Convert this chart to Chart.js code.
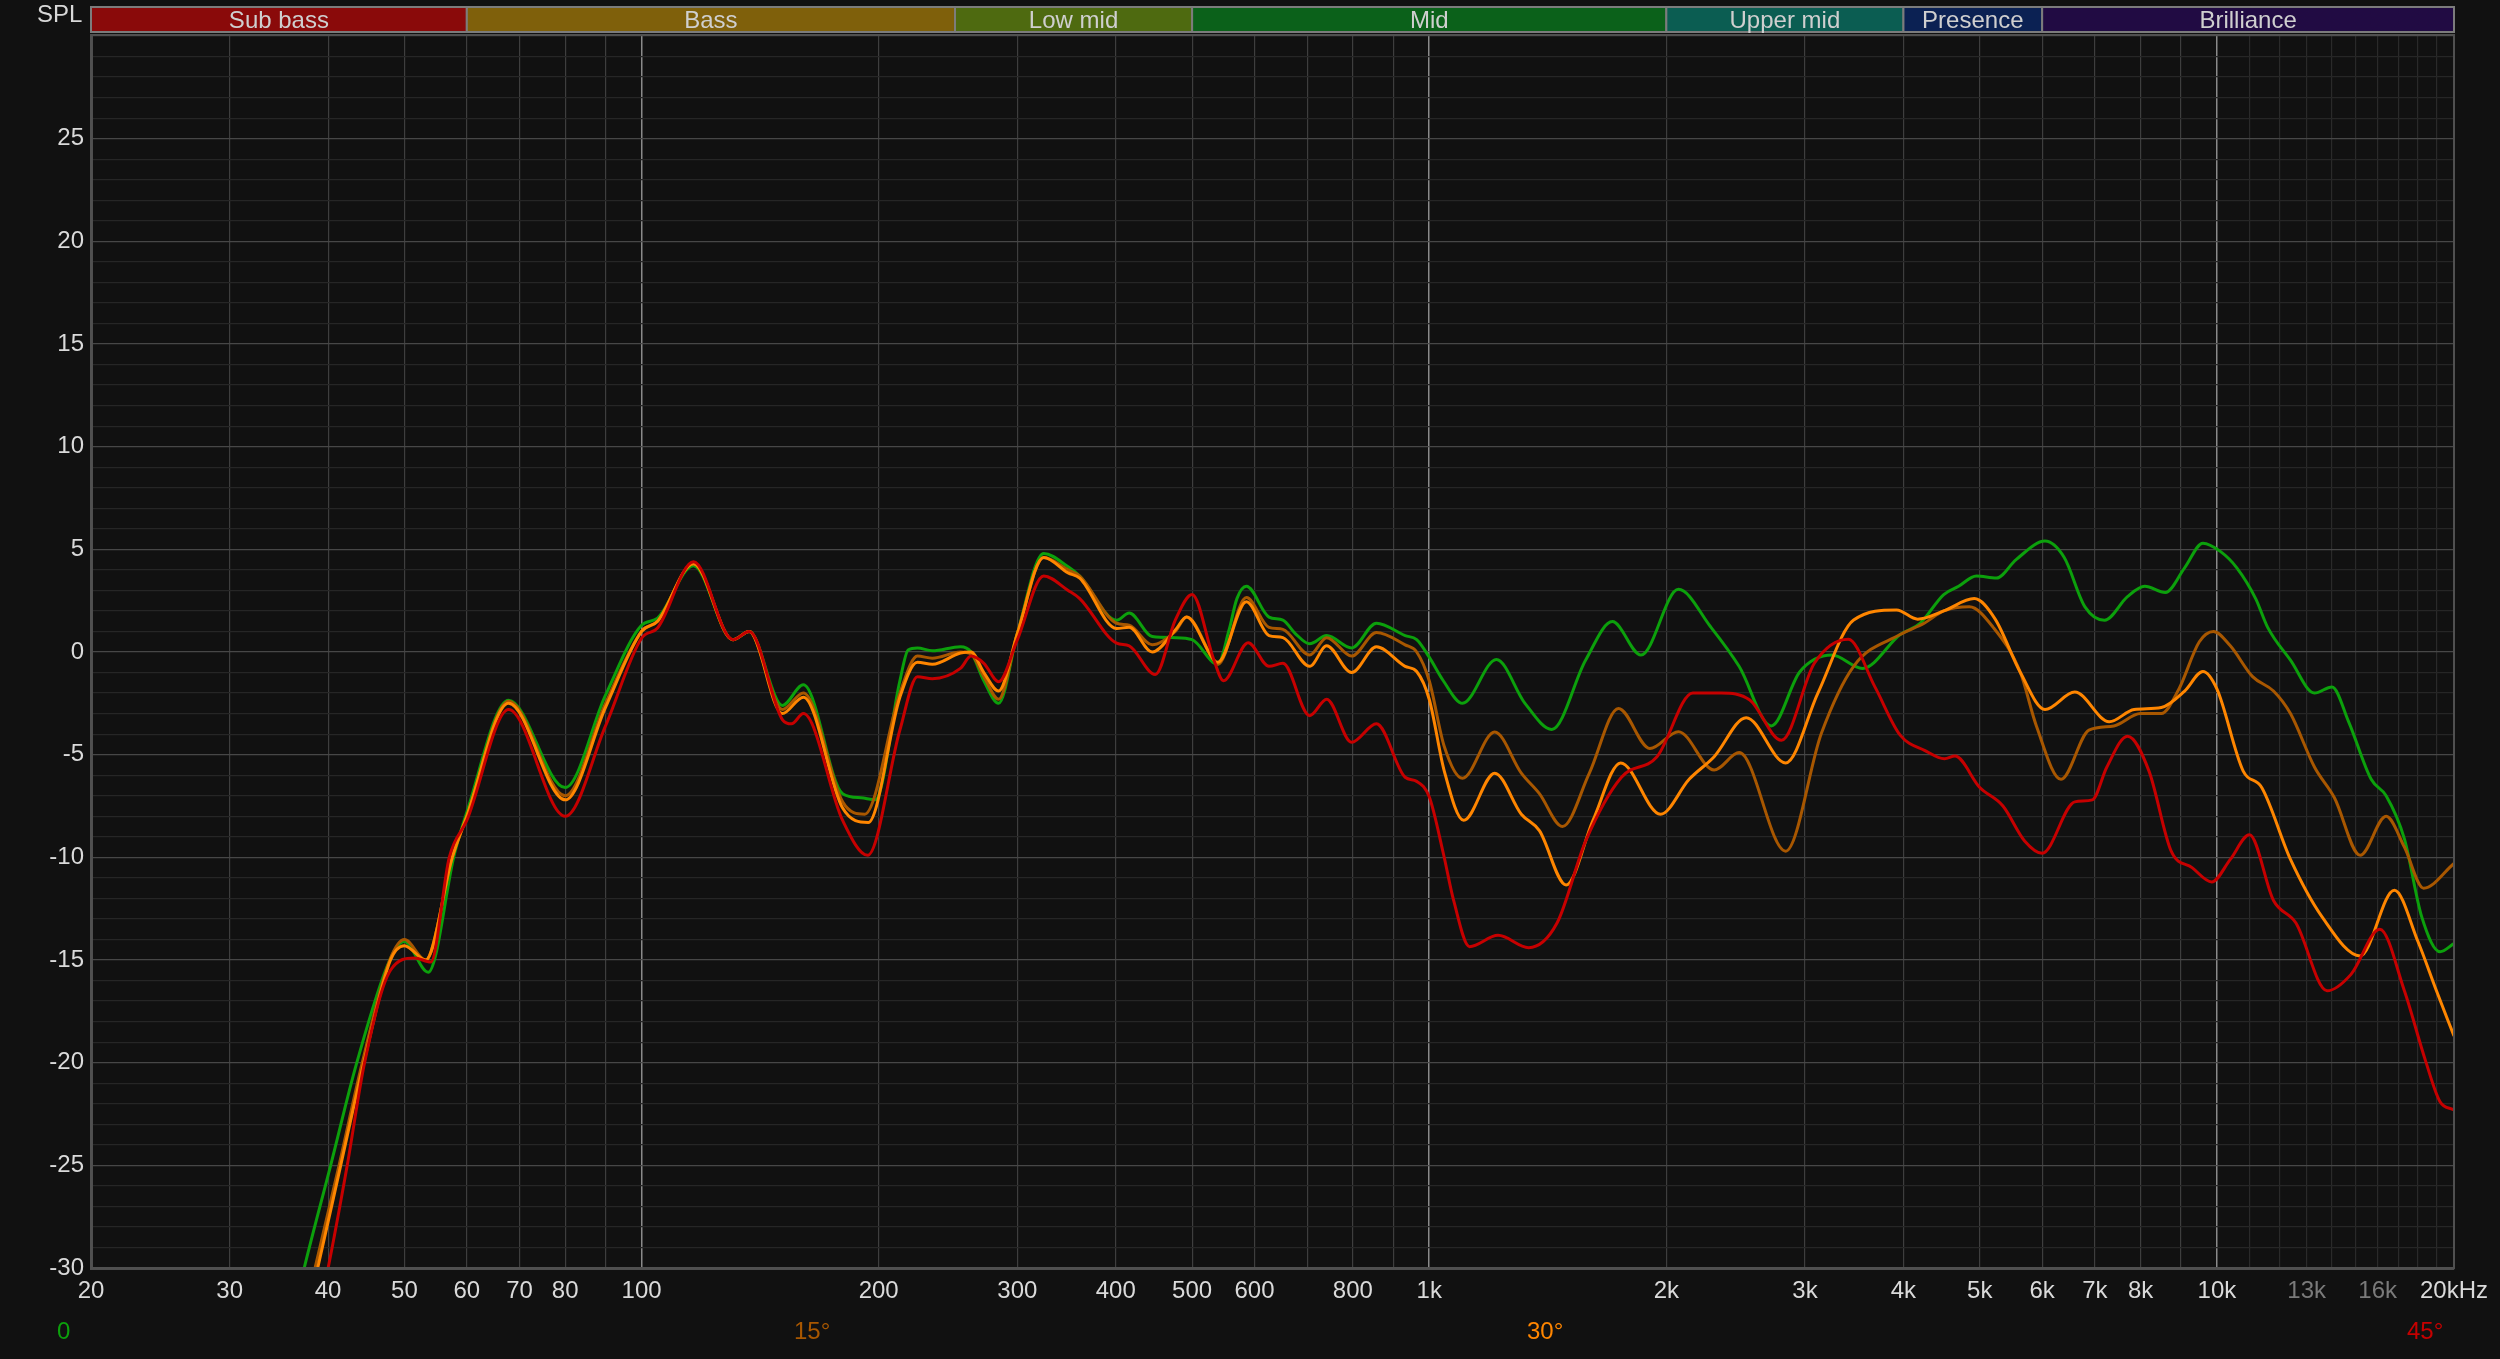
<!DOCTYPE html>
<html><head><meta charset="utf-8">
<script src="https://cdn.jsdelivr.net/npm/chart.js@4.4.1/dist/chart.umd.min.js"></script>
<style>
html,body{margin:0;padding:0;background:#111111;overflow:hidden;}
#wrap{position:relative;width:2500px;height:1359px;background:#111111;}
#wrap canvas{display:block;}
.lbl{position:absolute;font-family:'Liberation Sans',Arial,sans-serif;font-size:24px;line-height:24px;white-space:nowrap;}
</style></head><body>
<div id="wrap"><canvas id="c"></canvas>
<div class="lbl" style="left:37px;top:2px;color:#d8d8d8">SPL</div>
</div>
<script>
// ---------- data ----------
const seriesNames = ['0', '15°', '30°', '45°'];
const seriesColors = ['#0ca00c', '#a85700', '#ff8600', '#c60000'];

const freq0 = [20,25,32,37.3,40.3,43.5,47.9,50,53.6,57.9,60,67.8,80,90,100,104.8,116.4,130.6,137,150.9,160.5,180,190,198,212.8,218,224,234,254,262,272,284,300,324,348,360,401,416,445,476,500,539,557,570,586,626,652,676,705,741,797,857,932,964,1000,1042,1102,1217,1323,1431,1580,1708,1857,2072,2276,2475,2718,2955,3246,3548,3962,4200,4500,4700,4950,5250,5560,6050,6400,6800,7200,7700,8100,8600,9100,9600,10100,10600,11200,11600,12400,13300,14000,14700,15700,16400,17300,18200,19200,20000];
const spl0 = [-65,-55,-41,-30,-25,-20,-15,-14.1,-15.6,-9.8,-7.8,-2.35,-6.6,-2.1,1.3,1.65,4.2,0.6,1.0,-2.6,-1.6,-6.9,-7.1,-7.2,-1.4,0.1,0.2,0.06,0.26,0.0,-1.4,-2.5,0.9,4.8,4.15,3.7,1.55,1.9,0.75,0.7,0.6,-0.6,1.07,2.6,3.2,1.7,1.55,0.9,0.4,0.8,0.2,1.4,0.8,0.6,-0.25,-1.4,-2.5,-0.36,-2.5,-3.77,-0.39,1.48,-0.15,3.05,1.23,-0.71,-3.6,-0.96,-0.15,-0.8,0.85,1.4,2.8,3.2,3.7,3.6,4.5,5.4,4.6,2.2,1.55,2.7,3.2,2.9,4.1,5.3,4.9,4.1,2.6,1.2,-0.4,-2.0,-1.7,-3.4,-6.2,-7.0,-9.1,-12.9,-14.6,-14.2];

const freq15 = [20,25,33,38.5,41.3,44.2,47.9,50,53.2,57.5,60,67.8,80,90,100,104.8,116.4,130.6,137,150.9,160.5,180,192,212.8,224,234,254,262,272,284,300,324,348,360,401,416,445,476,492,533,539,586,626,652,705,741,797,857,932,964,1000,1045,1102,1211,1309,1380,1476,1597,1739,1906,2072,2300,2475,2835,3147,3458,3962,4250,4500,4850,5200,5630,5900,6340,6880,7400,8000,8500,8950,9500,9900,10400,11100,11800,12400,13300,14100,15200,16400,17300,18300,20000];
const spl15 = [-65,-55,-41,-30,-25,-20,-15,-14.0,-15.0,-10,-8.0,-2.4,-7.0,-2.5,1.0,1.5,4.3,0.6,1.0,-2.8,-2.0,-7.3,-7.9,-2.0,-0.2,-0.3,0.0,-0.1,-1.2,-2.3,0.9,4.6,4.0,3.7,1.4,1.3,0.35,1.0,1.7,-0.4,-0.6,2.65,1.2,1.1,-0.15,0.7,-0.2,0.95,0.35,0.0,-1.4,-4.6,-6.15,-3.9,-5.9,-6.9,-8.5,-5.9,-2.75,-4.7,-3.88,-5.75,-4.9,-9.7,-3.96,-0.7,0.85,1.4,2.0,2.2,1.2,-1.0,-3.6,-6.2,-3.8,-3.6,-3.0,-3.0,-1.8,0.5,1.0,0.3,-1.2,-1.9,-3.0,-5.6,-7.1,-9.9,-8.0,-9.5,-11.5,-10.3];

const freq30 = [20,25,33,38.8,41.5,44.4,48,50,53.2,57.5,60,67.8,80,90,100,104.8,116.4,130.6,137,150.9,160.5,180,194,212.8,224,234,254,262,272,284,300,324,348,360,401,416,445,476,492,533,539,586,626,652,705,741,797,857,932,964,1000,1045,1106,1211,1309,1380,1492,1614,1750,1966,2138,2300,2526,2835,3115,3458,3920,4170,4500,4920,5230,5630,6050,6600,7300,7850,8500,9100,9600,10000,10800,11400,12400,13600,15200,16800,18000,19000,20000];
const spl30 = [-65,-55,-41,-30,-25,-20,-15,-14.3,-15.0,-10,-8.0,-2.5,-7.2,-2.7,1.0,1.5,4.3,0.6,1.0,-3.0,-2.2,-7.6,-8.3,-2.2,-0.5,-0.6,-0.05,0.0,-1.0,-1.9,0.9,4.6,3.85,3.6,1.15,1.2,0.0,1.07,1.7,-0.4,-0.5,2.45,0.8,0.7,-0.7,0.3,-1.0,0.25,-0.7,-0.95,-2.3,-5.8,-8.2,-5.9,-7.9,-8.7,-11.35,-8.2,-5.4,-7.9,-6.2,-5.1,-3.2,-5.4,-2.0,1.56,2.05,1.6,2.0,2.6,1.6,-1.0,-2.8,-1.95,-3.4,-2.8,-2.7,-1.9,-0.95,-1.8,-5.8,-6.6,-10.1,-12.9,-14.8,-11.6,-14.1,-16.5,-18.7];

const freq45 = [20,25,35,40,42.3,44.5,48,51.5,54,57,60,67.8,80,90,100,104.8,116.4,130.6,137,151,155,160.5,180,193.7,212.8,224,234,254,262,272,284,300,324,348,360,401,416,449,476,500,533,548,589,626,652,705,741,797,857,932,964,1000,1042,1074,1125,1223,1337,1453,1580,1754,1946,2161,2348,2553,2800,3083,3404,3680,3962,4260,4510,4650,5000,5350,5700,6000,6600,6950,7250,7700,8200,8750,9300,9850,10400,11000,11800,12600,13800,14800,16100,17300,18400,19200,20000];
const spl45 = [-70,-58,-40,-30,-25,-20,-15.5,-14.9,-15.1,-10,-8.2,-2.8,-8.0,-3.6,0.67,1.17,4.4,0.6,1.0,-3.3,-3.5,-3.0,-8.2,-9.9,-3.8,-1.2,-1.3,-0.8,-0.2,-0.55,-1.45,0.6,3.7,3.0,2.6,0.43,0.3,-1.1,1.55,2.8,-0.4,-1.4,0.45,-0.7,-0.55,-3.1,-2.3,-4.4,-3.5,-6.1,-6.3,-7.05,-9.8,-12.1,-14.35,-13.8,-14.4,-13.2,-9.2,-6.1,-5.1,-2.0,-2.0,-2.34,-4.3,-0.55,0.62,-1.7,-4.05,-4.8,-5.2,-5.07,-6.6,-7.5,-9.2,-9.8,-7.3,-7.2,-5.6,-4.1,-5.8,-9.7,-10.5,-11.2,-10.1,-8.9,-12.1,-13.2,-16.5,-15.7,-13.5,-16.5,-19.9,-21.9,-22.3];

// x axis ticks / labels
const xGridValues = [20,30,40,50,60,70,80,90,100,200,300,400,500,600,700,800,900,1000,2000,3000,4000,5000,6000,7000,8000,9000,10000,11000,12000,13000,14000,15000,16000,17000,18000,19000,20000];
const xTickValues = [20,30,40,50,60,70,80,100,200,300,400,500,600,800,1000,2000,3000,4000,5000,6000,7000,8000,10000,13000,16000,20000];
const xTickLabels = ['20','30','40','50','60','70','80','100','200','300','400','500','600','800','1k','2k','3k','4k','5k','6k','7k','8k','10k','13k','16k','20kHz'];
const xDimLabels = [13000,16000];
const yMin = -30, yMax = 30;
const yTickLabels = [25,20,15,10,5,0,-5,-10,-15,-20,-25,-30];

// frequency bands
const bandNames = ['Sub bass','Bass','Low mid','Mid','Upper mid','Presence','Brilliance'];
const bandEdges = [20,60,250,500,2000,4000,6000,20000];
const bandColors = ['#8a0a0a','#7f600b','#4e6a10','#0b611a','#0b5d52','#0b2153','#210b43'];

// ---------- chart ----------
Chart.defaults.font.family = "'Liberation Sans', Arial, sans-serif";
Chart.defaults.font.size = 24;

const freqs = [freq0, freq15, freq30, freq45];
const spls = [spl0, spl15, spl30, spl45];
const datasets = seriesNames.map((n, i) => ({
  label: n,
  data: freqs[i].map((f, k) => ({x: f, y: spls[i][k]})),
  borderColor: seriesColors[i],
  backgroundColor: seriesColors[i],
  borderWidth: 3,
  pointRadius: 0,
  cubicInterpolationMode: 'monotone',
  fill: false,
  order: 3 - i
}));

const labelMap = {};
xTickValues.forEach((v, i) => labelMap[v] = xTickLabels[i]);

const bandsPlugin = {
  id: 'bands',
  afterDraw(chart) {
    const ctx = chart.ctx, xs = chart.scales.x, ca = chart.chartArea;
    ctx.save();
    ctx.strokeStyle = '#505050';
    ctx.lineWidth = 2;
    ctx.strokeRect(ca.left, ca.top - 1, ca.right - ca.left, ca.bottom - ca.top + 1);
    const top = 7, h = 25;
    for (let i = 0; i < bandNames.length; i++) {
      const x0 = xs.getPixelForValue(bandEdges[i]);
      const x1 = xs.getPixelForValue(bandEdges[i + 1]);
      ctx.fillStyle = bandColors[i];
      ctx.fillRect(x0, top, x1 - x0, h);
      ctx.strokeStyle = '#7c7c7c';
      ctx.lineWidth = 2;
      ctx.strokeRect(x0, top, x1 - x0, h);
      ctx.fillStyle = '#cfcfcf';
      ctx.font = "24px 'Liberation Sans', Arial, sans-serif";
      ctx.textAlign = 'center';
      ctx.textBaseline = 'middle';
      ctx.fillText(bandNames[i], (x0 + x1) / 2, top + h / 2 + 2);
    }
    ctx.restore();
  }
};

new Chart(document.getElementById('c'), {
  type: 'line',
  data: {datasets},
  plugins: [bandsPlugin],
  options: {
    responsive: true,
    maintainAspectRatio: false,
    animation: false,
    devicePixelRatio: 1,
    layout: {padding: {left: 0, right: 46, top: 36, bottom: 0}},
    plugins: {legend: {display: false}, tooltip: {enabled: false}},
    scales: {
      x: {
        type: 'logarithmic',
        min: 20, max: 20000,
        afterBuildTicks: s => { s.ticks = xGridValues.map(v => ({value: v})); },
        afterFit: s => { s.height = 91; },
        grid: {
          drawTicks: false,
          color: c => {
            const v = c.tick && c.tick.value;
            if (v === 100 || v === 1000 || v === 10000) return '#8a8a8a';
            if (v > 10000 && v < 20000) return '#2a2a2a';
            return '#3e3e3e';
          },
          lineWidth: c => {
            const v = c.tick && c.tick.value;
            return (v === 100 || v === 1000 || v === 10000) ? 1.5 : 1.2;
          }
        },
        border: {color: '#4e4e4e', width: 3},
        ticks: {
          autoSkip: false, maxRotation: 0, minRotation: 0, padding: 9,
          callback: v => (labelMap[v] !== undefined ? labelMap[v] : ''),
          color: c => (xDimLabels.includes(c.tick.value) ? '#7a7a7a' : '#dadada'),
          font: {size: 24}
        }
      },
      y: {
        type: 'linear',
        min: yMin, max: yMax,
        afterBuildTicks: s => { const t = []; for (let v = yMin; v <= yMax; v++) t.push({value: v}); s.ticks = t; },
        afterFit: s => { s.width = 91; },
        grid: {
          drawTicks: false,
          color: c => (c.tick && c.tick.value % 5 === 0 ? '#474747' : '#262626'),
          lineWidth: 1.2
        },
        border: {color: '#4e4e4e', width: 3},
        ticks: {
          autoSkip: false, padding: 7,
          callback: v => (yTickLabels.includes(v) ? String(v) : ''),
          color: '#dadada',
          font: {size: 24}
        }
      }
    }
  }
});

// bottom legend labels
const legendLeft = [57, 794, 1527, 2407];
const wrap = document.getElementById('wrap');
seriesNames.forEach((n, i) => {
  const d = document.createElement('div');
  d.className = 'lbl';
  d.style.left = legendLeft[i] + 'px';
  d.style.top = '1319px';
  d.style.color = seriesColors[i];
  d.textContent = n;
  wrap.appendChild(d);
});
</script>
</body></html>
